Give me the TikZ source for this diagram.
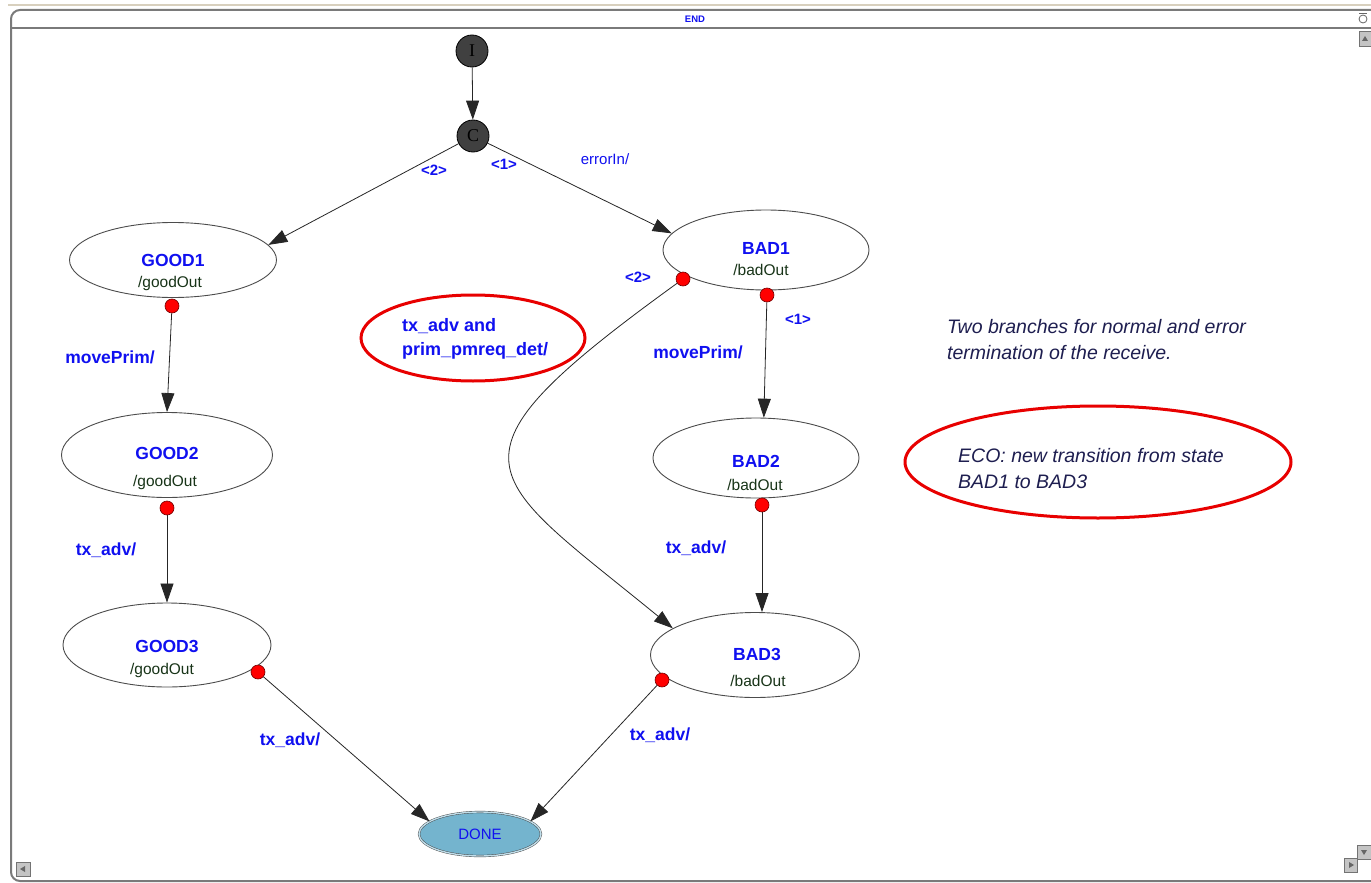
\documentclass[tikz,border=0pt]{standalone}
\usepackage{fontspec}
\setmainfont{Liberation Sans}
\newfontfamily\serifface{Liberation Serif}
\usetikzlibrary{shapes.geometric,arrows.meta}

\definecolor{lblue}{RGB}{16,16,240}
\definecolor{outgreen}{RGB}{24,52,24}
\definecolor{notenavy}{RGB}{30,30,80}
\definecolor{ringred}{RGB}{232,0,0}
\definecolor{donefill}{RGB}{116,180,206}
\definecolor{framegray}{RGB}{122,122,122}
\definecolor{framebeige}{RGB}{216,208,190}
\definecolor{btngray}{RGB}{196,196,196}
\definecolor{pseudo}{RGB}{64,64,64}

\begin{document}
\begin{tikzpicture}[x=1pt,y=-1pt,
  state/.style={ellipse, draw=black!70, line width=0.9pt, inner sep=0pt, fill=white},
  stname/.style={text=lblue, font=\fontsize{17.5}{20}\selectfont\bfseries, inner sep=0pt},
  stout/.style={text=outgreen, font=\fontsize{15.5}{18}\selectfont, inner sep=0pt},
  pseudostate/.style={circle, fill=pseudo, draw=black, line width=0.8pt, minimum size=32pt, inner sep=0pt,
    font=\serifface\fontsize{18}{20}\selectfont},
  outdot/.style={circle, fill=red, draw=red!45!black, line width=0.6pt, minimum size=14pt, inner sep=0pt},
  edge/.style={-{Triangle[length=19pt,width=13pt]}, line width=0.8pt, draw=black!85},
  elabel/.style={text=lblue, font=\fontsize{17.5}{20}\selectfont\bfseries, inner sep=0pt},
  prio/.style={text=lblue, font=\fontsize{15}{16}\selectfont\bfseries, inner sep=0pt},
  guard/.style={text=lblue, font=\fontsize{15}{18}\selectfont, inner sep=0pt},
  ring/.style={ellipse, draw=ringred, line width=3pt, inner sep=0pt},
  notetext/.style={text=notenavy, font=\fontsize{19.5}{26}\selectfont\itshape, align=left, inner sep=0pt, anchor=north west},
  button/.style={fill=btngray, draw=black!55, line width=0.8pt},
  btnarrow/.style={fill=black!60}
]

\useasboundingbox (0,0) rectangle (1371,883);
\fill[white] (0,0) rectangle (1371,883);

% window frame
\draw[framebeige, line width=2pt] (8,5) -- (1371,5);
\draw[framegray, line width=2pt, rounded corners=9pt] (1371,10) -- (11,10) -- (11,881) -- (1371,881);
\draw[framegray, line width=2pt] (11,28) -- (1371,28);
\node[text=lblue, font=\fontsize{9.5}{11}\selectfont\bfseries, inner sep=0pt] (title) at (695,19) {END};
\draw[black!60, line width=0.8pt] (1363,19) circle (4);
\draw[black!60, line width=0.8pt] (1359,13) -- (1367,13);

% scroll buttons
\draw[button] (1359,31) rectangle (1371,46);
\fill[btnarrow] (1362,41) -- (1368,41) -- (1365,36) -- cycle;
\draw[button] (1357,845) rectangle (1371,859);
\fill[btnarrow] (1361,850) -- (1367,850) -- (1364,855) -- cycle;
\draw[button] (1344,858) rectangle (1357,872);
\fill[btnarrow] (1349,862) -- (1349,868) -- (1354,865) -- cycle;
\draw[button] (16,862) rectangle (30,876);
\fill[btnarrow] (25,866) -- (25,872) -- (20,869) -- cycle;

% pseudo states
\node[pseudostate] (init) at (472,51) {I};
\node[pseudostate] (choice) at (473,136) {C};

% states
\node[state, minimum width=207pt, minimum height=75pt] (good1) at (173,260) {};
\node[state, minimum width=211pt, minimum height=85pt] (good2) at (167,455) {};
\node[state, minimum width=208pt, minimum height=84pt] (good3) at (167,645) {};
\node[state, minimum width=206pt, minimum height=80pt] (bad1) at (766,250) {};
\node[state, minimum width=206pt, minimum height=80pt] (bad2) at (756,458) {};
\node[state, minimum width=209pt, minimum height=85pt] (bad3) at (755,655) {};

\node[stname] (good1n) at ([yshift=0pt]good1.center) {GOOD1};
\node[stout] (good1o) at ([xshift=-3pt,yshift=-23pt]good1.center) {/goodOut};
\node[stname] (good2n) at ([yshift=2pt]good2.center) {GOOD2};
\node[stout] (good2o) at ([xshift=-2pt,yshift=-27pt]good2.center) {/goodOut};
\node[stname] (good3n) at ([yshift=-1pt]good3.center) {GOOD3};
\node[stout] (good3o) at ([xshift=-5pt,yshift=-25pt]good3.center) {/goodOut};
\node[stname] (bad1n) at ([yshift=2pt]bad1.center) {BAD1};
\node[stout] (bad1o) at ([xshift=-5pt,yshift=-20pt]bad1.center) {/badOut};
\node[stname] (bad2n) at ([yshift=-3pt]bad2.center) {BAD2};
\node[stout] (bad2o) at ([xshift=-1pt,yshift=-27pt]bad2.center) {/badOut};
\node[stname] (bad3n) at ([xshift=2pt,yshift=1pt]bad3.center) {BAD3};
\node[stout] (bad3o) at ([xshift=3pt,yshift=-26pt]bad3.center) {/badOut};

\node[ellipse, fill=donefill, draw=black!75, double=donefill!45!white, double distance=1.4pt,
      minimum width=122pt, minimum height=44pt, inner sep=0pt,
      text=lblue, font=\fontsize{15}{18}\selectfont] (done) at (480,834) {DONE};

% output markers
\node[outdot] (g1o) at (172,306) {};
\node[outdot] (g2o) at (167,508) {};
\node[outdot] (g3o) at (258,672) {};
\node[outdot] (b1a) at (683,279) {};
\node[outdot] (b1b) at (767,295) {};
\node[outdot] (b2o) at (762,505) {};
\node[outdot] (b3o) at (662,680) {};

% transitions
\draw[edge] (init) -- (choice);
\draw[edge] (choice) -- (good1.9);
\draw[edge] (choice) -- (bad1.170);
\draw[edge] (g1o) -- (good2.north);
\draw[edge] (g2o) -- (g2o |- good3.north);
\draw[edge] (g3o) -- (done.166);
\draw[edge] (b1b) -- (bad2.79);
\draw[edge] (b2o) -- (b2o |- bad3.north);
\draw[edge] (b3o) -- (done.14);
\draw[edge] (b1a) .. controls (430,462) and (482,472) .. (bad3.162);

% transition labels
\node[prio] (p2l) at (434,170) {<2>};
\node[prio] (p1l) at (504,164) {<1>};
\node[guard] (errl) at (605,159) {errorIn/};
\node[elabel] (mp1) at (110,357) {movePrim/};
\node[elabel] (tx1) at (106,550) {tx\_adv/};
\node[elabel] (tx2) at (290,740) {tx\_adv/};
\node[prio] (p2r) at (638,277) {<2>};
\node[prio] (p1r) at (798,319) {<1>};
\node[elabel] (mp2) at (698,352) {movePrim/};
\node[elabel] (tx3) at (696,548) {tx\_adv/};
\node[elabel] (tx4) at (660,735) {tx\_adv/};

% highlighted new transition guard
\node[ring, minimum width=224pt, minimum height=86pt] (ring1) at (473,338) {};
\node[text=lblue, font=\fontsize{18}{24}\selectfont\bfseries, align=left, inner sep=0pt, anchor=north west]
  (newguard) at (402,318) {tx\_adv and\\prim\_pmreq\_det/};

% notes
\node[notetext] (note1) at (947,319) {Two branches for normal and error\\termination of the receive.};
\node[ring, minimum width=386pt, minimum height=112pt] (ring2) at (1098,462) {};
\node[notetext] (note2) at (958,448) {ECO: new transition from state\\BAD1 to BAD3};

\end{tikzpicture}
\end{document}
